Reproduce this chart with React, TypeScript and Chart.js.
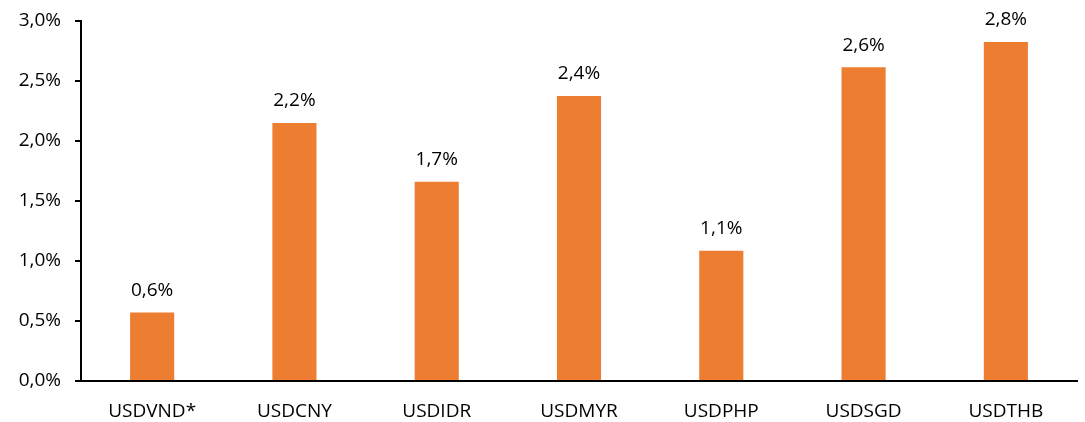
import React, { useEffect, useRef } from "react";
import { Chart, registerables } from "chart.js";

Chart.register(...registerables);

const categories = ["USDVND*", "USDCNY", "USDIDR", "USDMYR", "USDPHP", "USDSGD", "USDTHB"];
const values = [0.57, 2.15, 1.66, 2.375, 1.085, 2.615, 2.825];
const labels = ["0,6%", "2,2%", "1,7%", "2,4%", "1,1%", "2,6%", "2,8%"];
const yTicks = [0, 0.5, 1, 1.5, 2, 2.5, 3];

const FONT = "'Open Sans', sans-serif";

const valueLabels = {
  id: "valueLabels",
  afterDatasetsDraw(chart: any) {
    const ctx = chart.ctx;
    const meta = chart.getDatasetMeta(0);
    ctx.save();
    ctx.font = `19px ${FONT}`;
    ctx.fillStyle = "#000";
    ctx.textAlign = "center";
    ctx.textBaseline = "middle";
    meta.data.forEach((bar: any, i: number) => {
      ctx.fillText(labels[i], bar.x, bar.y - 22);
    });
    ctx.restore();
  },
};

export default function App() {
  const ref = useRef<HTMLCanvasElement>(null);
  useEffect(() => {
    document.body.style.margin = "0";
    const chart = new Chart(ref.current!, {
      type: "bar",
      data: {
        labels: categories,
        datasets: [
          {
            data: values,
            backgroundColor: "#ED7D31",
            categoryPercentage: 1,
            barPercentage: 0.31,
          },
        ],
      },
      options: {
        animation: false,
        responsive: false,
        maintainAspectRatio: false,
        layout: { padding: { top: 21, right: 8, left: 0, bottom: 0 } },
        plugins: { legend: { display: false }, tooltip: { enabled: false } },
        scales: {
          x: {
            grid: { display: false },
            border: { display: true, color: "#000", width: 2 },
            ticks: { color: "#000", font: { family: FONT, size: 19 }, padding: 11 },
            afterFit(scale: any) {
              scale.height = 41;
            },
          },
          y: {
            min: 0,
            max: 3,
            afterBuildTicks(scale: any) {
              scale.ticks = yTicks.map((v) => ({ value: v }));
            },
            grid: {
              drawOnChartArea: false,
              drawTicks: true,
              tickLength: 6,
              color: "#000",
              lineWidth: 2,
            },
            border: { display: true, color: "#000", width: 2 },
            ticks: {
              color: "#000",
              font: { family: FONT, size: 19 },
              padding: 14,
              callback: (v: any) => Number(v).toFixed(1).replace(".", ",") + "%",
            },
            afterFit(scale: any) {
              scale.width = 81;
              scale.paddingTop = 0;
              scale.paddingBottom = 0;
            },
          },
        },
      },
      plugins: [valueLabels],
    });
    return () => chart.destroy();
  }, []);
  return (
    <div style={{ position: "relative", width: 1085, height: 422 }}>
      <canvas ref={ref} width={1085} height={422} style={{ display: "block" }} />
    </div>
  );
}
